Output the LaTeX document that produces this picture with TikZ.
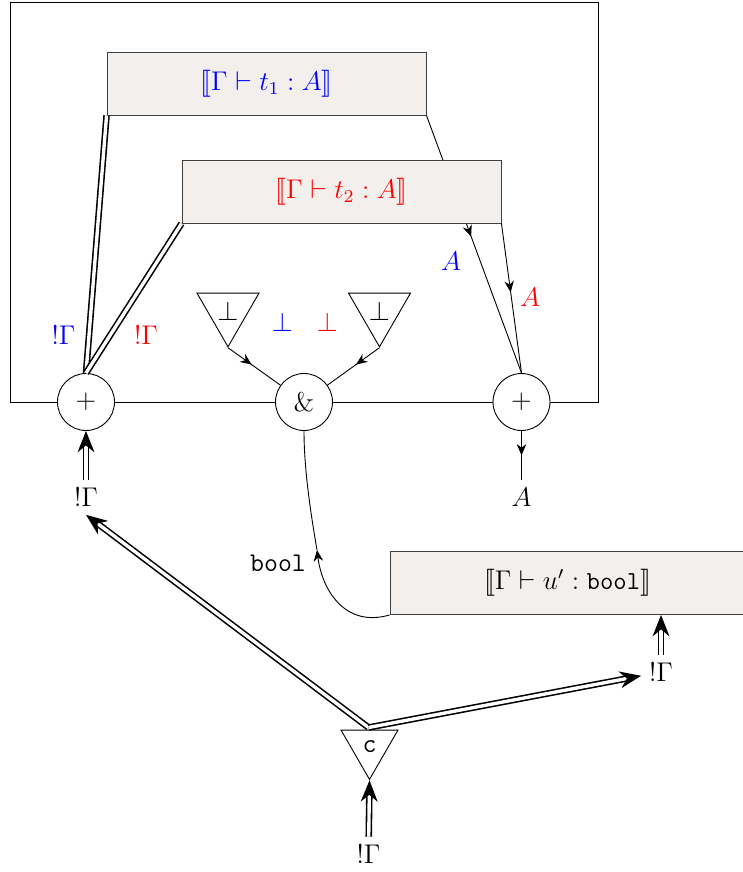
\documentclass[tikz,border=0pt]{standalone}
\usepackage{stmaryrd}
\usetikzlibrary{arrows.meta,shapes.geometric,decorations.markings}
\definecolor{boxfill}{RGB}{243,239,236}
\begin{document}
\begin{tikzpicture}[x=0.444pt,y=-0.444pt,
  box/.style={draw=black!75, fill=boxfill, minimum width=319*0.444pt, minimum height=63*0.444pt, inner sep=0pt, font=\fontsize{11.5}{14}\selectfont},
  circ/.style={circle, draw, fill=white, minimum size=57*0.444pt, inner sep=0pt, font=\large},
  tri/.style={regular polygon, regular polygon sides=3, shape border rotate=180, draw, minimum size=71.6*0.444pt, inner sep=0pt, font=\large},
  lbl/.style={font=\large},
  dbl/.style={double, double distance=1.5pt, line width=0.7pt},
  dblarr/.style={dbl, -{Stealth[length=9.5pt,width=7.5pt]}},
  sarr/.style={-{Stealth[length=5pt,width=4.2pt]}},
  mid/.style={postaction={decorate}, decoration={markings, mark=at position #1 with {\arrow{Stealth[length=5pt,width=4.2pt]}}}}
]
\useasboundingbox (0,0) rectangle (742,872);
% frame
\node[draw, minimum width=588*0.444pt, minimum height=400*0.444pt, inner sep=0pt] (frame) at (304,202) {};
% circles
\node[circ] (lp) at (86,402) {$+$};
\node[circ, font=\fontsize{13}{15}\selectfont] (amp) at (304,402) {$\&$};
\node[circ] (rp) at (521.5,402) {$+$};
% boxes
\node[box] (t1) at (266.5,83.5) {\color{blue}$\llbracket\Gamma\vdash t_1:A\rrbracket$};
\draw[mid=0.47] (t1.south east) -- (rp.north);
\draw[dbl] (t1.south west) -- (lp.north);
\node[box] (t2) at (341.5,191.5) {\color{red}$\llbracket\Gamma\vdash t_2:A\rrbracket$};
\draw[mid=0.46] (t2.south east) -- (rp.north);
\draw[dbl] (t2.south west) -- (lp.north);
% labels inside frame
\node[lbl, blue] (lbg) at (63.5,335.5) {$!\Gamma$};
\node[lbl, red] (lrg) at (146,335.5) {$!\Gamma$};
\node[lbl, blue] (lba) at (451,261) {$A$};
\node[lbl, red] (lra) at (530,297.5) {$A$};
% bottoms
\node[tri] (b1) at (228,311) {$\bot$};
\node[tri] (b2) at (379.5,311) {$\bot$};
\draw[mid=0.45] (b1.south) -- (amp);
\draw[mid=0.45] (b2.south) -- (amp);
\node[lbl, blue] (lbb) at (282.5,322) {$\bot$};
\node[lbl, red] (lrb) at (327.5,322) {$\bot$};
% output A
\node[lbl] (aout) at (521.5,497) {$A$};
\draw[mid=0.5] (rp.south) -- (aout);
% left input
\node[lbl] (lg) at (86,497.5) {$!\Gamma$};
\draw[dblarr] (lg) -- (lp);
% u' box
\node[box, minimum width=355*0.444pt] (u) at (567.5,583) {$\llbracket\Gamma\vdash u':\texttt{bool}\rrbracket$};
\node[font=\large\ttfamily] (boollbl) at (278,563) {bool};
\coordinate (bp) at (317,550);
\draw[sarr] (u.south west) .. controls (345,628) and (322,590) .. (bp);
\draw (bp) .. controls (311,515) and (304,470) .. (amp.south);
% right input
\node[lbl] (rg) at (661,672) {$!\Gamma$};
\draw[dblarr] (rg.north) -- (rg.north |- u.south);
% contraction
\node[tri, minimum size=65.8*0.444pt, font=\large\ttfamily] (c) at (369.5,746.5) {c};
\coordinate (cn) at (368.5,727.5);
\draw[dblarr] (cn) -- (lg.south);
\draw[dblarr] (cn) -- (rg);
\node[lbl] (bg) at (368.5,854) {$!\Gamma$};
\draw[dblarr] (bg) -- (c.south);
\end{tikzpicture}
\end{document}
